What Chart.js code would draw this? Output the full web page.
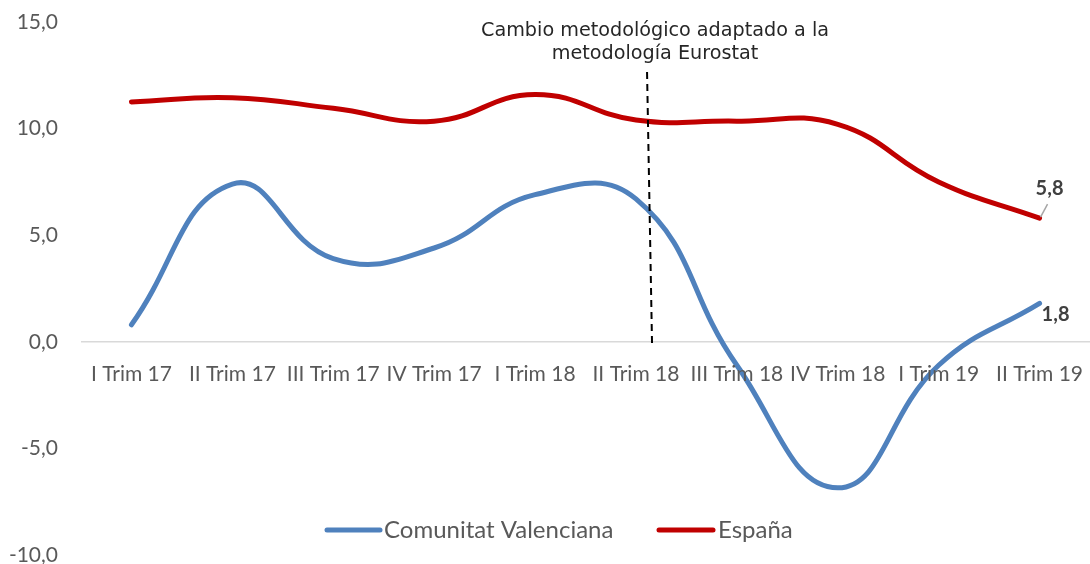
<!DOCTYPE html>
<html>
<head>
<meta charset="utf-8">
<script src="https://cdn.jsdelivr.net/npm/chart.js@4.4.1/dist/chart.umd.min.js"></script>
<style>
  html, body { margin: 0; padding: 0; background: #fff; }
  #wrap { width: 1090px; height: 564px; position: relative; }
</style>
</head>
<body>
<div id="wrap"><canvas id="chart"></canvas></div>
<script>
// datos
const trimestres = ["I Trim 17", "II Trim 17", "III Trim 17", "IV Trim 17", "I Trim 18",
                    "II Trim 18", "III Trim 18", "IV Trim 18", "I Trim 19", "II Trim 19"];
const valenciana = [0.8, 7.4, 3.9, 4.4, 6.9, 6.7, -1.1, -6.85, -1.1, 1.8];
const espana = [11.25, 11.45, 10.95, 10.35, 11.6, 10.4, 10.35, 10.2, 7.5, 5.8];
const yTicks = [-10, -5, 0, 5, 10, 15];
const nota = ["Cambio metodológico adaptado a la", "metodología Eurostat"];

const fmt = v => v.toFixed(1).replace(".", ",");

const extras = {
    id: "extras",
    afterDatasetsDraw(chart) {
        const ctx = chart.ctx;
        const xs = chart.scales.x;
        const ys = chart.scales.y;
        ctx.save();

        // etiquetas del eje x sobre la linea de cero
        ctx.font = "21px Lato";
        ctx.fillStyle = "#595959";
        ctx.textAlign = "center";
        ctx.textBaseline = "middle";
        trimestres.forEach(function (t, i) {
            ctx.fillText(t, xs.getPixelForValue(i), ys.getPixelForValue(0) + 32);
        });

        // linea discontinua del cambio metodologico
        ctx.strokeStyle = "#000";
        ctx.lineWidth = 2;
        ctx.setLineDash([7, 5]);
        ctx.beginPath();
        ctx.moveTo(xs.getPixelForValue(5.11), ys.getPixelForValue(12.65));
        ctx.lineTo(xs.getPixelForValue(5.16), ys.getPixelForValue(-0.25));
        ctx.stroke();
        ctx.setLineDash([]);

        // texto de la nota
        ctx.fillStyle = "#262626";
        ctx.font = "17px 'DejaVu Sans'";
        const w = ctx.measureText(nota[0]).width;
        const size = 17 * 348 / w;
        ctx.font = size.toFixed(2) + "px 'DejaVu Sans'";
        ctx.fillText(nota[0], 655, 31);
        ctx.fillText(nota[1], 655, 54);

        // etiquetas de los ultimos valores
        const last = trimestres.length - 1;
        const px = xs.getPixelForValue(last);
        const pyE = ys.getPixelForValue(espana[last]);
        const pyV = ys.getPixelForValue(valenciana[last]);
        ctx.strokeStyle = "#A6A6A6";
        ctx.lineWidth = 1.5;
        ctx.beginPath();
        ctx.moveTo(px + 1, pyE - 1);
        ctx.lineTo(px + 8, pyE - 14);
        ctx.stroke();
        ctx.font = "bold 20px Lato";
        ctx.fillStyle = "#404040";
        ctx.fillText(fmt(espana[last]), px + 10, pyE - 30);
        ctx.fillText(fmt(valenciana[last]), px + 16, pyV + 11);

        // leyenda
        const ly = 530;
        ctx.lineWidth = 5;
        ctx.lineCap = "round";
        ctx.strokeStyle = "#4F81BD";
        ctx.beginPath(); ctx.moveTo(327, ly); ctx.lineTo(380, ly); ctx.stroke();
        ctx.strokeStyle = "#C00000";
        ctx.beginPath(); ctx.moveTo(659, ly); ctx.lineTo(713, ly); ctx.stroke();
        ctx.font = "24px Lato";
        ctx.fillStyle = "#595959";
        ctx.textAlign = "left";
        ctx.fillText(chart.data.datasets[0].label, 384, ly);
        ctx.fillText(chart.data.datasets[1].label, 718, ly);
        ctx.restore();
    }
};

new Chart(document.getElementById("chart"), {
    type: "line",
    data: {
        labels: trimestres,
        datasets: [
            {
                label: "Comunitat Valenciana",
                data: valenciana,
                borderColor: "#4F81BD",
                borderWidth: 5,
                tension: 0.45,
                pointRadius: 0,
                borderCapStyle: "round",
            },
            {
                label: "España",
                data: espana,
                borderColor: "#C00000",
                borderWidth: 5,
                tension: 0.45,
                pointRadius: 0,
                borderCapStyle: "round",
            },
        ],
    },
    options: {
        responsive: true,
        maintainAspectRatio: false,
        animation: false,
        layout: { padding: { top: 22, bottom: 9, left: 0, right: 0 } },
        plugins: {
            legend: { display: false },
            tooltip: { enabled: false },
        },
        scales: {
            x: {
                display: false,
                offset: true,
            },
            y: {
                min: -10,
                max: 15,
                afterFit: function (scale) {
                    scale.width = 81;
                    scale.paddingTop = 0;
                    scale.paddingBottom = 0;
                },
                afterBuildTicks: function (scale) {
                    scale.ticks = yTicks.map(v => ({ value: v }));
                },
                border: { display: false },
                grid: {
                    drawTicks: false,
                    color: ctx => (ctx.tick && ctx.tick.value === 0 ? "#D9D9D9" : "rgba(0,0,0,0)"),
                    lineWidth: 1.5,
                },
                ticks: {
                    padding: 23,
                    color: "#595959",
                    font: { family: "Lato", size: 21 },
                    callback: v => fmt(v),
                },
            },
        },
    },
    plugins: [extras],
});
</script>
</body>
</html>
